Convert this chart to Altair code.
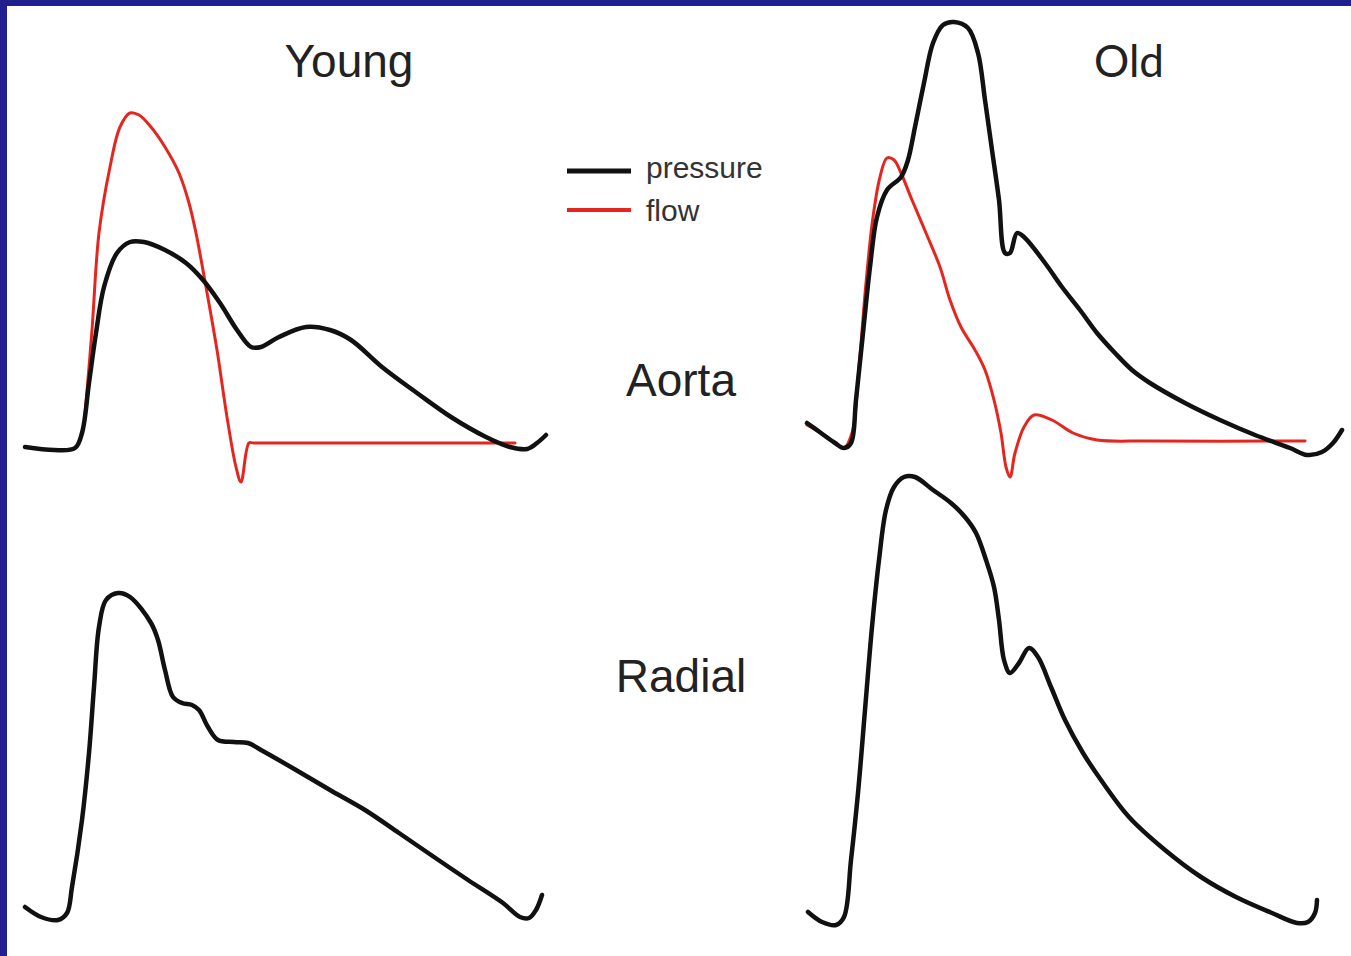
import altair as alt
import pandas as pd

# Waveforms: time from start of trace (ms) and amplitude (arbitrary units)

# Aorta, young
ya_pressure_t = [0, 29, 50, 57, 64, 71, 79, 92, 105, 119, 140, 161, 178, 195, 212, 226, 236,
                 254, 281, 305, 326, 357, 392, 426, 461, 485, 502, 512, 521]
ya_pressure = [35, 32, 34, 49, 99, 149, 195, 229, 240, 240, 232, 219, 202, 179, 152, 135, 135,
               145, 155, 152, 142, 115, 89, 65, 45, 35, 33, 39, 47]
ya_flow_t = [60, 67, 74, 85, 95, 105, 114, 126, 140, 154, 164, 171, 181, 192, 202, 211, 216,
             224, 229, 490]
ya_flow = [67, 152, 249, 315, 355, 369, 367, 355, 335, 309, 279, 249, 195, 132, 65, 15, 0,
           39, 39, 39]

# Radial, young
yr_pressure_t = [0, 16, 33, 42, 47, 57, 64, 69, 74, 81, 93, 105, 126, 133, 140, 148, 157, 167,
                 174, 183, 193, 209, 223, 236, 271, 305, 340, 374, 409, 443, 478, 495, 504,
                 511, 517]
yr_pressure = [13, 3, 0, 7, 33, 100, 167, 233, 293, 320, 327, 323, 297, 280, 250, 223, 217, 215,
               210, 193, 180, 178, 177, 170, 150, 130, 110, 87, 63, 40, 17, 3, 2, 10, 25]

# Aorta, old
oa_pressure_t = [0, 14, 28, 37, 44, 49, 56, 63, 70, 80, 94, 101, 108, 117, 126, 136, 147, 161,
                 171, 178, 185, 192, 198, 203, 210, 217, 238, 255, 273, 290, 308, 325, 343,
                 378, 413, 448, 483, 500, 515, 526, 535]
oa_pressure = [55, 45, 35, 30, 35, 78, 145, 211, 261, 288, 301, 318, 351, 395, 435, 453, 456,
               450, 425, 378, 328, 278, 225, 225, 245, 241, 215, 191, 168, 145, 125, 108, 95,
               75, 58, 43, 30, 23, 26, 35, 48]
oa_flow_t = [0, 14, 28, 37, 45, 52, 59, 66, 73, 80, 87, 94, 105, 119, 133, 143, 154, 168, 178,
             187, 194, 199, 203, 208, 217, 227, 245, 266, 290, 343, 498]
oa_flow = [53, 45, 35, 30, 45, 111, 195, 261, 301, 320, 318, 305, 278, 245, 211, 178, 151, 128,
           108, 78, 45, 11, 1, 25, 51, 63, 58, 45, 38, 37, 37]

# Radial, old
or_pressure_t = [0, 14, 28, 36, 43, 50, 57, 64, 71, 78, 86, 96, 107, 125, 143, 157, 168, 178,
                 186, 191, 196, 202, 211, 221, 230, 243, 257, 275, 293, 321, 357, 393, 428,
                 464, 489, 500, 507, 509]
or_pressure = [13, 3, 0, 8, 65, 132, 215, 298, 365, 415, 438, 448, 448, 435, 422, 408, 392, 365,
               338, 305, 265, 252, 262, 277, 268, 238, 205, 172, 145, 108, 75, 48, 28, 12, 2,
               3, 12, 25]

PRESSURE_COLOR = "#111111"
FLOW_COLOR = "#e5261f"
BORDER_COLOR = "#20208f"
TEXT_COLOR = "#222222"

one_row = pd.DataFrame({"k": [0]})


def trace(t, v, color, width, x_range, y_range, y_domain):
    df = pd.DataFrame({"t": t, "v": v})
    return alt.Chart(df).mark_line(
        color=color, strokeWidth=width, interpolate="catmull-rom",
        strokeCap="round", strokeJoin="round",
    ).encode(
        x=alt.X("t:Q", axis=None,
                scale=alt.Scale(domain=[0, 550], range=x_range, nice=False, zero=False)),
        y=alt.Y("v:Q", axis=None,
                scale=alt.Scale(domain=y_domain, range=y_range, nice=False, zero=False)),
    )


def label(text, x, y, size=46, font="Liberation Sans", align="center", color=TEXT_COLOR):
    return alt.Chart(one_row).mark_text(
        text=text, font=font, fontSize=size, align=align, baseline="alphabetic", color=color,
    ).encode(x=alt.value(x), y=alt.value(y))


def band(x, x2, y, y2, color):
    return alt.Chart(one_row).mark_rect(color=color).encode(
        x=alt.value(x), x2=alt.value(x2), y=alt.value(y), y2=alt.value(y2))


def swatch(y, color, width):
    return alt.Chart(one_row).mark_rule(color=color, strokeWidth=width).encode(
        x=alt.value(567), x2=alt.value(631), y=alt.value(y))


layers = [
    band(0, 7, 0, 956, BORDER_COLOR),
    band(0, 1351, 0, 6, BORDER_COLOR),
    label("Young", 349, 77),
    label("Old", 1129, 77, size=44, font="Lato"),
    label("Aorta", 681, 396),
    label("Radial", 681, 692),
    swatch(171, PRESSURE_COLOR, 5),
    swatch(210, FLOW_COLOR, 4),
    label("pressure", 646, 178, size=30, align="left", color="#333333"),
    label("flow", 646, 221, size=30, align="left", color="#333333"),
    trace(ya_flow_t, ya_flow, FLOW_COLOR, 3, [25, 575], [482, 82], [0, 400]),
    trace(ya_pressure_t, ya_pressure, PRESSURE_COLOR, 4.5, [25, 575], [482, 82], [0, 400]),
    trace(yr_pressure_t, yr_pressure, PRESSURE_COLOR, 4.5, [25, 575], [920, 520], [0, 400]),
    trace(oa_flow_t, oa_flow, FLOW_COLOR, 3, [807, 1357], [478, -2], [0, 480]),
    trace(oa_pressure_t, oa_pressure, PRESSURE_COLOR, 4.5, [807, 1357], [478, -2], [0, 480]),
    trace(or_pressure_t, or_pressure, PRESSURE_COLOR, 4.5, [808, 1358], [925, 445], [0, 480]),
]

chart = alt.layer(*layers).resolve_scale(
    x="independent", y="independent"
).properties(
    width=1351, height=956, padding=0, autosize="none", background="white",
).configure_view(stroke=None)

chart.save("out.html", embed_options={"renderer": "svg", "actions": False})
